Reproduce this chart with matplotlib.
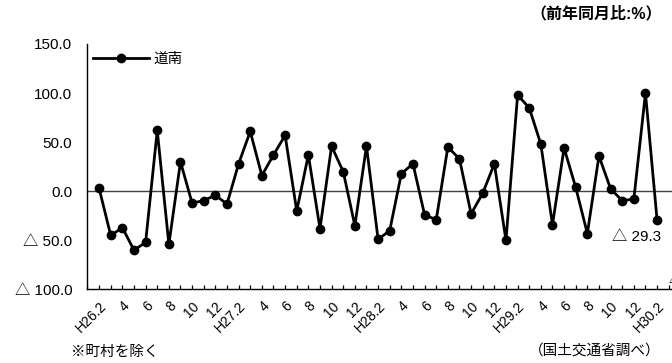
import matplotlib
matplotlib.use("Agg")
import matplotlib.pyplot as plt

plt.rcParams['font.family'] = ['Liberation Sans', 'Noto Sans CJK JP', 'DejaVu Sans']

# 前年同月比(%) H26.2 - H30.2
valores = [3, -45, -37, -60, -52, 62, -54, 30, -12, -9.5, -4, -13,
           28, 61, 16, 37, 57, -20, 37, -38, 46, 20, -35, 46,
           -49, -40, 18, 28, -24, -29, 45, 33, -23, -2, 28, -50,
           98, 85, 48, -34, 44, 4, -43, 36, 2.5, -9.5, -8, 100,
           -29.3]
etiquetas_x = ["H26.2", "4", "6", "8", "10", "12",
               "H27.2", "4", "6", "8", "10", "12",
               "H28.2", "4", "6", "8", "10", "12",
               "H29.2", "4", "6", "8", "10", "12",
               "H30.2", "4"]
ticks_y = [150, 100, 50, 0, -50, -100]
etiquetas_y = ["150.0", "100.0", "50.0", "0.0", "△ 50.0", "△ 100.0"]

fig = plt.figure(figsize=(6.72, 3.63), dpi=100)
# el eje sigue mas alla del borde derecho (grafico recortado)
ax = fig.add_axes([0.1302, 0.2025, 0.9168, 0.6763])

x = list(range(len(valores)))
ax.axhline(0, color='#404040', lw=1.0, zorder=1)
ax.plot(x, valores, color='black', lw=2.0, marker='o', markersize=6,
        label='道南', zorder=3)

ax.set_xlim(-1, 52)
ax.set_ylim(-100, 150)

ax.set_xticks(range(-1, 53), minor=True)
ax.set_xticks(range(0, 2 * len(etiquetas_x), 2))
ax.set_xticklabels(etiquetas_x, rotation=45, ha='right',
                   rotation_mode='anchor', fontsize=10)
ax.tick_params(axis='x', which='both', direction='in', length=3,
               width=0.9, pad=7)
ax.set_yticks(ticks_y)
ax.set_yticklabels(etiquetas_y, fontsize=11)
ax.tick_params(axis='y', length=0, pad=11)

for s in ['top', 'right']:
    ax.spines[s].set_visible(False)
for s in ['left', 'bottom']:
    ax.spines[s].set_linewidth(1.0)

ax.annotate("△ 29.3", (x[-1], valores[-1]), xytext=(3, -12.5),
            textcoords='offset points', ha='right', va='center', fontsize=11)

ax.legend(loc='upper left', bbox_to_anchor=(-0.012, 1.02), frameon=False,
          fontsize=10.5, handlelength=3.8, handletextpad=0.3)

fig.text(0.985, 0.962, "（前年同月比:%）", ha='right', va='center',
         fontsize=11.5, fontweight='bold')
fig.text(0.105, 0.03, "※町村を除く", ha='left', va='center', fontsize=10.5)
fig.text(0.983, 0.035, "（国土交通省調べ）", ha='right', va='center', fontsize=10.5)
fig.text(0.995, 0.23, "△", ha='left', va='center', fontsize=10)

plt.savefig("out.png", dpi=100)
